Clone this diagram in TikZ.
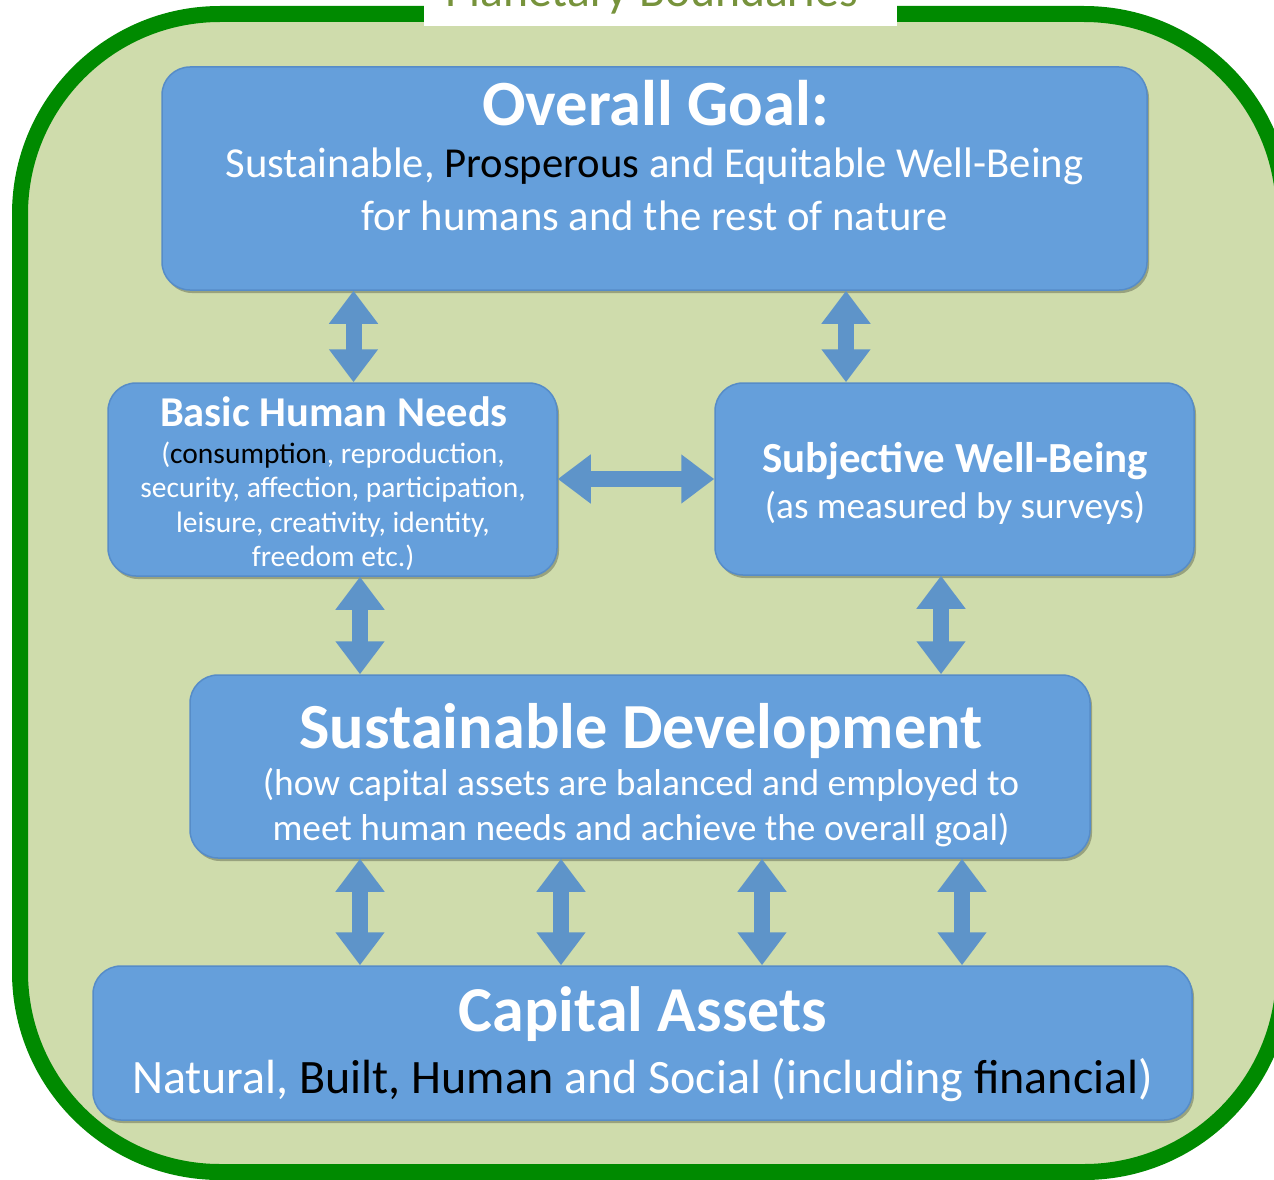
\documentclass[tikz,border=0pt]{standalone}
\usepackage{fontspec}
\setmainfont{Carlito}
\usetikzlibrary{arrows.meta, shadows}

\definecolor{boxblue}{RGB}{101,159,219}
\definecolor{boxedge}{RGB}{86,140,200}
\definecolor{arrowblue}{RGB}{94,148,201}
\definecolor{leaf}{RGB}{207,220,172}
\definecolor{rim}{RGB}{0,138,0}
\definecolor{olivetxt}{RGB}{119,147,60}

\newcommand\fsz[1]{\fontsize{#1}{#1}\selectfont}

\begin{document}
\begin{tikzpicture}[x=1pt, y=-1pt,
    panel/.style={draw=boxedge, line width=1.5pt, fill=boxblue, rounded corners=28pt,
        drop shadow={shadow xshift=2pt, shadow yshift=-3pt, opacity=.35, fill=black!75!leaf}},
    dblarrow/.style={draw=arrowblue, line width=16pt,
        {Triangle[width=47pt,length=33pt]}-{Triangle[width=47pt,length=33pt]}},
    txt/.style={text=white, anchor=base, inner sep=0pt}]
    \clip (0,0) rectangle (1274,1180);

    % outer frame and its caption
    \node[draw=rim, line width=16pt, fill=leaf, rounded corners=200pt,
        minimum width=1264pt, minimum height=1158pt] (frame) at (652,593) {};
    \node[fill=white, inner sep=0pt, minimum width=473pt, minimum height=46pt] (capbox) at (660.5,3) {};
    \node[txt, text=olivetxt, font=\fsz{47.6}] (caption) at (651.5,7) {Planetary Boundaries};

    % boxes
    \node[panel, minimum width=985pt, minimum height=223pt] (goal) at (654.5,178.5) {};
    \node[panel, minimum width=449pt, minimum height=193pt] (needs) at (332.5,479.5) {};
    \node[panel, minimum width=479pt, minimum height=192pt] (wellbeing) at (954.5,479) {};
    \node[panel, minimum width=900pt, minimum height=183pt] (devel) at (640,766.5) {};
    \node[panel, minimum width=1099pt, minimum height=154pt] (assets) at (642.5,1043) {};

    % texts
    \node[txt, font=\fsz{64.5}\bfseries] (goalhead) at (655.5,125) {Overall Goal:};
    \node[txt, font=\fsz{42.7}] (goalline1) at (654.5,177) {Sustainable, \textcolor{black}{Prosperous} and Equitable Well-Being};
    \node[txt, font=\fsz{42.7}] (goalline2) at (654.5,230) {for humans and the rest of nature};

    \node[txt, font=\fsz{42.5}\bfseries] (needshead) at (334,426) {Basic Human Needs};
    \node[txt, font=\fsz{29.5}] (needsline1) at (333,463) {(\textcolor{black}{consumption}, reproduction,};
    \node[txt, font=\fsz{29.5}] (needsline2) at (333,497) {security, affection, participation,};
    \node[txt, font=\fsz{29.5}] (needsline3) at (333,532) {leisure, creativity, identity,};
    \node[txt, font=\fsz{29.5}] (needsline4) at (333,566) {freedom etc.)};

    \node[txt, font=\fsz{42.9}\bfseries] (wellhead) at (955,472) {Subjective Well-Being};
    \node[txt, font=\fsz{37.2}] (wellline) at (955,518) {(as measured by surveys)};

    \node[txt, font=\fsz{64.3}\bfseries] (develhead) at (641,748) {Sustainable Development};
    \node[txt, font=\fsz{37.4}] (develline1) at (641,795) {(how capital assets are balanced and employed to};
    \node[txt, font=\fsz{37.4}] (develline2) at (641,840) {meet human needs and achieve the overall goal)};

    \node[txt, font=\fsz{64}\bfseries] (assetshead) at (643,1031) {Capital Assets};
    \node[txt, font=\fsz{48}] (assetsline) at (642.5,1093) {Natural, \textcolor{black}{Built, Human} and Social (including \textcolor{black}{financial})};

    % arrows
    \coordinate (c1) at (353.5,0);
    \coordinate (c2) at (846,0);
    \coordinate (c3) at (360,0);
    \coordinate (c4) at (941,0);
    \coordinate (r1) at (0,479);
    \draw[dblarrow] (goal.south -| c1) -- (needs.north -| c1);
    \draw[dblarrow] (goal.south -| c2) -- (wellbeing.north -| c2);
    \draw[dblarrow] (needs.east |- r1) -- (wellbeing.west |- r1);
    \draw[dblarrow] (needs.south -| c3) -- (devel.north -| c3);
    \draw[dblarrow] (wellbeing.south -| c4) -- (devel.north -| c4);
    \foreach \xx in {360,561,762,962}
        \draw[dblarrow] (devel.south -| \xx,0) -- (assets.north -| \xx,0);
\end{tikzpicture}
\end{document}
